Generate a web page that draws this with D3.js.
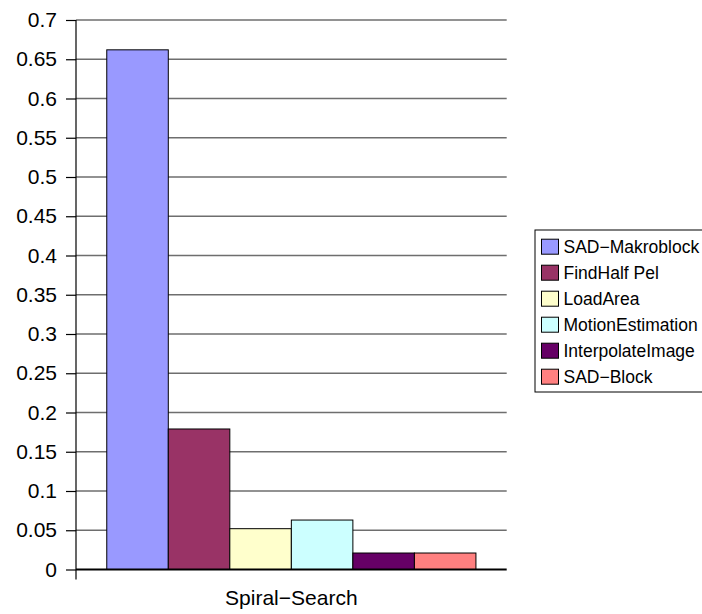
<!DOCTYPE html>
<html>
<head>
<meta charset="utf-8">
<script src="https://cdn.jsdelivr.net/npm/d3@7"></script>
<style>
  html, body { margin: 0; padding: 0; background: #fff; }
  svg { display: block; font-family: "Liberation Sans", Arial, sans-serif; }
</style>
</head>
<body>
<svg id="chart" width="702" height="614"></svg>
<script>
// Profile of the Spiral-Search motion estimation: share per function
const category = "Spiral\u2212Search";
const seriesNames = ["SAD\u2212Makroblock", "FindHalf Pel", "LoadArea", "MotionEstimation", "InterpolateImage", "SAD\u2212Block"];
const seriesValues = [0.662, 0.179, 0.052, 0.063, 0.021, 0.021];
const seriesColors = ["#9999FF", "#993366", "#FFFFCC", "#CCFFFF", "#660066", "#FF8080"];
const yTicks = [0, 0.05, 0.1, 0.15, 0.2, 0.25, 0.3, 0.35, 0.4, 0.45, 0.5, 0.55, 0.6, 0.65, 0.7];

const svg = d3.select("#chart");
const plot = { left: 76, right: 506.7, top: 20, bottom: 569.5 };

const y = d3.scaleLinear().domain([0, 0.7]).range([plot.bottom, plot.top]);

// One category spans the plot; bars fill 6 of 7 slots (100% gap width)
const xCat = d3.scaleBand().domain([category]).range([plot.left, plot.right]).paddingInner(0).paddingOuter(0);
const groupPad = xCat.bandwidth() / 14;
const xSeries = d3.scaleBand().domain(seriesNames)
  .range([xCat(category) + groupPad, xCat(category) + xCat.bandwidth() - groupPad]);

// Gridlines
svg.append("g")
  .selectAll("line")
  .data(yTicks.filter(t => t > 0))
  .join("line")
  .attr("x1", plot.left).attr("x2", plot.right)
  .attr("y1", d => y(d)).attr("y2", d => y(d))
  .attr("stroke", "#6e6e6e").attr("stroke-width", 1.3);

// Bars
svg.append("g")
  .selectAll("rect")
  .data(seriesNames.map((n, i) => ({ name: n, value: seriesValues[i], color: seriesColors[i] })))
  .join("rect")
  .attr("x", d => xSeries(d.name))
  .attr("width", xSeries.bandwidth())
  .attr("y", d => y(d.value))
  .attr("height", d => plot.bottom - y(d.value))
  .attr("fill", d => d.color)
  .attr("stroke", "#000").attr("stroke-width", 1);

// Y axis
const yAxis = d3.axisLeft(y)
  .tickValues(yTicks)
  .tickSize(10)
  .tickPadding(9)
  .tickFormat(d => String(+d.toFixed(2)));
const gy = svg.append("g").attr("transform", `translate(${plot.left},0)`).call(yAxis);
gy.select(".domain").remove();
gy.selectAll(".tick line").attr("stroke", "#000").attr("stroke-width", 1.2);
gy.selectAll(".tick text").attr("font-size", 21).attr("fill", "#000")
  .attr("font-family", "'Liberation Sans', Arial, sans-serif");
gy.append("line")
  .attr("x1", 0).attr("x2", 0)
  .attr("y1", plot.top).attr("y2", plot.bottom + 10)
  .attr("stroke", "#000").attr("stroke-width", 1.2);

// X axis baseline and category label
svg.append("line")
  .attr("x1", plot.left).attr("x2", plot.right)
  .attr("y1", plot.bottom).attr("y2", plot.bottom)
  .attr("stroke", "#000").attr("stroke-width", 2);
svg.append("text")
  .attr("x", xCat(category) + xCat.bandwidth() / 2)
  .attr("y", 605)
  .attr("text-anchor", "middle")
  .attr("font-size", 21)
  .text(category);

// Legend
const legend = svg.append("g").attr("transform", "translate(535,230)");
legend.append("rect")
  .attr("x", 0).attr("y", 0).attr("width", 170).attr("height", 162)
  .attr("fill", "#fff").attr("stroke", "#000").attr("stroke-width", 1);
const item = legend.selectAll("g.item")
  .data(seriesNames)
  .join("g")
  .attr("class", "item")
  .attr("transform", (d, i) => `translate(0,${16.7 + i * 26})`);
item.append("rect")
  .attr("x", 6.5).attr("y", -7.5).attr("width", 17).attr("height", 15)
  .attr("fill", (d, i) => seriesColors[i])
  .attr("stroke", "#000").attr("stroke-width", 1);
item.append("text")
  .attr("x", 28.5).attr("y", 0)
  .attr("dy", "0.35em")
  .attr("font-size", 17.5)
  .text(d => d);
</script>
</body>
</html>
